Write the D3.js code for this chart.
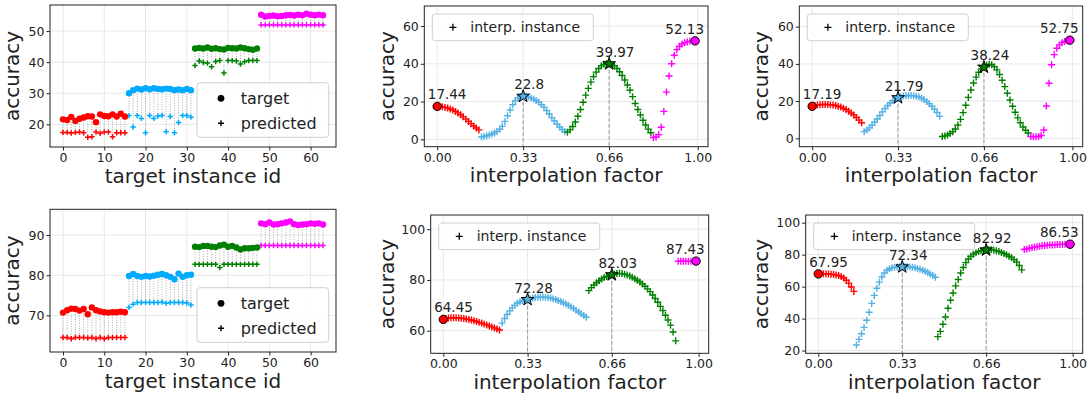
<!DOCTYPE html>
<html>
<head>
<meta charset="utf-8">
<script src="https://cdn.jsdelivr.net/npm/d3@7"></script>
<style>
  body { margin: 0; background: #fff; }
  svg { display: block; }
  text { font-family: "DejaVu Sans", sans-serif; fill: #222; }
</style>
</head>
<body>
<svg id="chart" width="1089" height="399"></svg>
<script>
// ---- data ----
const instanceIds = d3.range(64);           // target instance id 0..63
const groupSize = 16;                        // 16 instances per target group
const interpFactors = d3.range(100).map(i => i / 100);  // 0.00 .. 0.99

const targetTop = [
  21.6, 21.4, 22.4, 21.1, 21.8, 22.2, 22.6, 22.5, 20.7, 23.2, 22.7, 22.6, 23.2, 22.5, 23.4, 22.5,
  30.0, 31.0, 31.5, 31.2, 31.6, 31.3, 31.6, 31.4, 31.3, 31.5, 31.4, 31.0, 31.2, 31.0, 31.4, 31.0,
  44.4, 44.6, 44.4, 44.7, 44.3, 44.5, 44.2, 44.1, 44.6, 44.5, 44.4, 44.7, 44.5, 44.2, 44.0, 44.4,
  55.3, 54.7, 54.9, 55.0, 54.8, 54.9, 55.1, 55.2, 55.0, 55.3, 55.1, 55.6, 55.3, 55.1, 55.3, 55.1
];
const predictedTop = [
  17.4, 17.4, 17.2, 17.4, 17.5, 17.3, 15.8, 16.0, 17.5, 17.1, 17.5, 17.5, 16.0, 17.3, 17.3, 17.3,
  22.8, 19.1, 22.8, 21.9, 17.3, 22.8, 21.9, 22.7, 22.8, 17.6, 22.5, 17.3, 20.6, 22.8, 22.8, 22.3,
  38.9, 40.4, 39.9, 39.7, 38.5, 40.2, 40.5, 36.5, 40.5, 40.5, 40.4, 39.4, 40.1, 40.5, 40.5, 40.5,
  52.0, 52.0, 52.0, 52.0, 52.0, 52.0, 52.0, 52.0, 52.0, 52.0, 52.0, 52.0, 52.0, 52.0, 52.0, 52.0
];
const targetBottom = [
  70.7, 71.3, 71.7, 71.6, 71.2, 71.6, 70.3, 72.0, 71.3, 71.0, 70.8, 70.7, 70.8, 70.8, 70.9, 70.8,
  79.8, 80.3, 79.8, 79.6, 79.8, 79.7, 79.9, 80.1, 80.3, 80.0, 79.6, 79.0, 80.4, 79.6, 80.0, 80.1,
  87.1, 87.0, 87.3, 87.3, 87.1, 87.0, 87.4, 87.6, 87.1, 87.3, 86.9, 86.4, 86.7, 86.7, 86.8, 86.9,
  92.9, 92.7, 93.1, 92.6, 92.7, 92.9, 93.1, 93.4, 92.7, 92.5, 92.6, 92.7, 92.9, 92.8, 92.9, 92.6
];
const predictedBottom = [
  64.5, 64.5, 64.2, 64.5, 64.5, 64.5, 64.4, 64.5, 64.2, 64.5, 64.2, 64.5, 64.5, 64.5, 64.5, 64.5,
  72.0, 72.8, 73.2, 73.2, 73.2, 73.2, 73.2, 73.2, 73.3, 73.0, 73.2, 73.2, 73.2, 73.2, 73.1, 72.6,
  82.7, 82.7, 82.7, 82.7, 82.7, 82.7, 81.9, 82.7, 82.7, 82.7, 82.7, 82.7, 82.7, 82.7, 82.7, 82.7,
  87.4, 87.4, 87.4, 87.4, 87.4, 87.4, 87.4, 87.4, 87.4, 87.4, 87.4, 87.4, 87.4, 87.4, 87.4, 87.4
];

// interpolated instances, one value per interpolation factor
const interpTopMid = [
  17.44, 17.4, 17.2, 16.9, 16.6, 16.1, 15.5, 14.8, 14.0, 13.0, 11.9, 10.7, 9.5, 8.3, 7.1, 6.0, 5.0,
  1.2, 1.5, 1.9, 2.3, 2.8, 3.4, 4.2, 5.3, 7.0, 9.5, 12.5, 15.5, 18.3, 20.5, 21.9, 22.6, 22.8,
  22.7, 22.4, 21.9, 21.3, 20.6, 19.6, 18.4, 17.0, 15.3, 13.4, 11.5, 9.7, 8.0, 6.5, 5.2, 4.0,
  3.8, 5.0, 6.8, 9.2, 12.2, 15.8, 19.6, 23.4, 27.0, 30.3, 33.2, 35.6, 37.5, 38.9, 39.7, 40.1, 39.97,
  39.6, 38.8, 37.5, 35.8, 33.8, 31.4, 28.8, 26.0, 22.6, 19.0, 15.8, 12.9, 10.1, 7.6, 5.4, 3.5,
  1.0, 1.2, 2.5, 6.4, 14.8, 25.0, 33.5, 40.0, 44.5, 47.5, 49.3, 50.5, 51.2, 51.6, 51.9, 52.0, 52.13
];
const interpTopRight = [
  17.19, 17.6, 17.9, 18.1, 18.2, 18.2, 18.2, 18.1, 17.9, 17.6, 17.2, 16.8, 16.2, 15.5, 14.6, 13.6, 12.5, 11.2, 9.8, 8.4,
  3.6, 4.5, 5.6, 7.0, 8.6, 10.4, 12.3, 14.2, 16.0, 17.6, 19.0, 20.2, 21.1, 21.79,
  22.3, 22.7, 22.9, 23.0, 23.0, 22.9, 22.6, 22.2, 21.6, 20.8, 19.8, 18.6, 17.2, 15.6, 13.9, 11.8,
  1.0, 1.3, 1.8, 2.6, 3.6, 5.0, 7.2, 10.2, 13.8, 17.8, 22.0, 26.0, 29.7, 32.9, 35.5, 37.3, 38.24,
  39.3, 39.8, 39.5, 38.5, 36.8, 34.3, 31.2, 27.8, 24.2, 20.6, 17.2, 14.0, 11.0, 8.4, 6.1, 4.3, 2.9,
  1.0, 0.9, 0.9, 1.0, 1.5, 4.5, 17.4, 29.6, 39.5, 45.0, 48.4, 50.2, 51.4, 52.0, 52.4, 52.75
];
const interpBottomMid = [
  64.45, 64.8, 65.0, 65.1, 65.1, 65.1, 65.0, 64.9, 64.8, 64.6, 64.4, 64.2, 63.9, 63.6, 63.3, 63.0,
  62.6, 62.3, 61.9, 61.5, 61.1, 60.7, 60.3,
  63.0, 64.8, 66.4, 67.8, 69.0, 70.0, 70.8, 71.4, 71.8, 72.1, 72.28,
  72.6, 72.9, 73.1, 73.2, 73.3, 73.3, 73.2, 73.1, 72.9, 72.6, 72.3, 71.9, 71.5, 71.0, 70.5, 70.0,
  69.4, 68.8, 68.1, 67.4, 66.7, 66.0, 65.3,
  75.8, 77.0, 78.0, 78.9, 79.7, 80.4, 81.0, 81.4, 81.8, 82.03,
  82.3, 82.5, 82.6, 82.5, 82.3, 82.0, 81.6, 81.1, 80.5, 79.9, 79.2, 78.4, 77.5, 76.5, 75.4, 74.1,
  72.7, 71.2, 69.6, 67.9, 66.1, 64.2, 62.2, 59.5, 56.0,
  87.4, 87.4, 87.4, 87.4, 87.4, 87.4, 87.4, 87.43
];
const interpBottomRight = [
  67.95, 68.0, 68.0, 68.0, 67.9, 67.8, 67.6, 67.3, 66.9, 66.3, 65.4, 64.0, 62.2, 59.8, 57.0,
  23.5, 27.0, 30.5, 34.5, 39.0, 44.0, 49.5, 54.5, 59.0, 62.8, 66.0, 68.5, 70.2, 71.2, 71.8, 72.1,
  72.3, 72.4, 72.34,
  72.4, 72.4, 72.3, 72.1, 71.8, 71.4, 70.9, 70.3, 69.6, 68.8, 67.9, 66.9, 65.9,
  28.7, 32.0, 36.5, 41.0, 46.5, 51.5, 56.0, 60.5, 64.5, 68.5, 72.0, 75.0, 77.3, 79.0, 80.3, 81.2,
  81.9, 82.4, 82.7, 82.92,
  83.0, 83.0, 82.8, 82.5, 82.0, 81.4, 80.7, 79.9, 79.0, 78.0, 76.9, 75.5, 73.2, 70.5,
  83.2, 83.6, 84.0, 84.4, 84.7, 85.0, 85.3, 85.5, 85.7, 85.9, 86.0, 86.1, 86.2, 86.3, 86.4, 86.4,
  86.5, 86.5, 86.53
];
// first index of the 2nd, 3rd and 4th coloured segment
const splitTopMid = [17, 50, 83];
const splitTopRight = [20, 50, 84];
const splitBottomMid = [23, 57, 92];
const splitBottomRight = [15, 47, 81];

const keyIndices = [0, 33, 66, 99];                  // the 4 target instances
const keyMarkers = ['circle', 'star', 'star', 'circle'];

const scatterXTicks = [0, 10, 20, 30, 40, 50, 60];
const interpXTicks = [0, 0.33, 0.66, 1.0];

const scatterColors = ['#ff0000', '#00aaff', '#008000', '#ff00ff'];
const interpColors = ['#ff0000', '#55b0e3', '#008000', '#ff00ff'];

// ---- layout ----
const panels = [
  { kind: 'scatter', box: [50, 5, 336, 147], xDom: [-3.15, 66.15], yDom: [12.7, 58.4],
    yTicks: [20, 30, 40, 50], target: targetTop, pred: predictedTop, ylabOff: 31 },
  { kind: 'interp', box: [424.3, 6, 708, 146.7], xDom: [-0.0495, 1.0395], yDom: [-3.9, 70.6],
    yTicks: [0, 20, 40, 60], values: interpTopMid, split: splitTopMid, ylabOff: 30 },
  { kind: 'interp', box: [799.3, 6, 1082.7, 146.7], xDom: [-0.0495, 1.0395], yDom: [-4.5, 71.1],
    yTicks: [0, 20, 40, 60], values: interpTopRight, split: splitTopRight, ylabOff: 31 },
  { kind: 'scatter', box: [50, 209.3, 336, 352], xDom: [-3.15, 66.15], yDom: [60.9, 96.4],
    yTicks: [70, 80, 90], target: targetBottom, pred: predictedBottom, ylabOff: 31 },
  { kind: 'interp', box: [430.7, 215, 708.7, 353.3], xDom: [-0.0495, 1.0395], yDom: [51.1, 105.6],
    yTicks: [60, 80, 100], values: interpBottomMid, split: splitBottomMid, ylabOff: 36.5 },
  { kind: 'interp', box: [805.7, 215, 1082.7, 353.3], xDom: [-0.0495, 1.0395], yDom: [18.3, 104.8],
    yTicks: [20, 40, 60, 80, 100], values: interpBottomRight, split: splitBottomRight, ylabOff: 37.5 }
];

const svg = d3.select('#chart');
svg.append('rect').attr('width', 1089).attr('height', 399).attr('fill', '#fff');

const plusPath = h => `M${-h},0H${h}M0,${-h}V${h}`;

panels.forEach(p => {
  const [x0, y0, x1, y1] = p.box;
  const x = d3.scaleLinear().domain(p.xDom).range([x0, x1]);
  const y = d3.scaleLinear().domain(p.yDom).range([y1, y0]);
  const xTicks = p.kind === 'scatter' ? scatterXTicks : interpXTicks;
  const g = svg.append('g');

  // grid
  g.append('g').selectAll('line').data(xTicks).join('line')
    .attr('x1', d => x(d)).attr('x2', d => x(d)).attr('y1', y0).attr('y2', y1)
    .attr('stroke', '#e8e8e8').attr('stroke-width', 1);
  g.append('g').selectAll('line').data(p.yTicks).join('line')
    .attr('x1', x0).attr('x2', x1).attr('y1', d => y(d)).attr('y2', d => y(d))
    .attr('stroke', '#e8e8e8').attr('stroke-width', 1);

  // axes
  const xAxis = d3.axisBottom(x).tickValues(xTicks).tickSize(3.5).tickPadding(2.5)
    .tickFormat(p.kind === 'scatter' ? d3.format('d') : d3.format('.2f'));
  const gx = g.append('g').attr('transform', `translate(0,${y1})`).call(xAxis);
  const gy = g.append('g').attr('transform', `translate(${x0},0)`)
    .call(d3.axisLeft(y).tickValues(p.yTicks).tickSize(3.5).tickPadding(2).tickFormat(d3.format('d')));
  [gx, gy].forEach(a => {
    a.select('.domain').remove();
    a.selectAll('line').attr('stroke', '#222');
    a.selectAll('text').attr('font-size', 12.5).attr('fill', '#222')
      .attr('font-family', '"DejaVu Sans", sans-serif');
  });

  // axis labels
  g.append('text').attr('x', (x0 + x1) / 2).attr('y', y1 + 35.5)
    .attr('text-anchor', 'middle').attr('font-size', 20)
    .text(p.kind === 'scatter' ? 'target instance id' : 'interpolation factor');
  g.append('text')
    .attr('transform', `translate(${x0 - p.ylabOff},${(y0 + y1) / 2}) rotate(-90)`)
    .attr('text-anchor', 'middle').attr('font-size', 20).text('accuracy');

  const plot = g.append('g');

  if (p.kind === 'scatter') {
    const grp = i => Math.floor(i / groupSize);
    plot.selectAll('line.link').data(instanceIds).join('line').attr('class', 'link')
      .attr('x1', i => x(i)).attr('x2', i => x(i))
      .attr('y1', i => y(p.target[i])).attr('y2', i => y(p.pred[i]))
      .attr('stroke', '#999').attr('stroke-width', 0.8).attr('stroke-dasharray', '1 1.5');
    plot.selectAll('path.pred').data(instanceIds).join('path').attr('class', 'pred')
      .attr('transform', i => `translate(${x(i)},${y(p.pred[i])})`)
      .attr('d', plusPath(2.7)).attr('stroke', i => scatterColors[grp(i)]).attr('stroke-width', 1.5);
    plot.selectAll('circle.tgt').data(instanceIds).join('circle').attr('class', 'tgt')
      .attr('cx', i => x(i)).attr('cy', i => y(p.target[i])).attr('r', 3.2)
      .attr('fill', i => scatterColors[grp(i)]);

    // legend (lower right)
    const lw = 131.7, lh = 54.6, lx = x1 - 7.3 - lw, ly = y1 - 9.7 - lh;
    const lg = g.append('g');
    lg.append('rect').attr('x', lx).attr('y', ly).attr('width', lw).attr('height', lh).attr('rx', 3)
      .attr('fill', 'rgba(255,255,255,0.85)').attr('stroke', '#d0d0d0');
    lg.append('circle').attr('cx', lx + 24).attr('cy', ly + 15.6).attr('r', 3.4).attr('fill', '#000');
    lg.append('path').attr('transform', `translate(${lx + 24},${ly + 40.6})`)
      .attr('d', plusPath(3)).attr('stroke', '#000').attr('stroke-width', 1.4);
    lg.append('text').attr('x', lx + 43.7).attr('y', ly + 15.6).attr('dy', '0.35em')
      .attr('font-size', 16).text('target');
    lg.append('text').attr('x', lx + 43.7).attr('y', ly + 40.6).attr('dy', '0.35em')
      .attr('font-size', 16).text('predicted');
  } else {
    const seg = i => d3.bisectRight(p.split, i);
    const idx = d3.range(p.values.length);

    // dashed guides at the two middle targets
    plot.selectAll('line.guide').data(keyIndices.slice(1, 3)).join('line').attr('class', 'guide')
      .attr('x1', i => x(interpFactors[i])).attr('x2', i => x(interpFactors[i]))
      .attr('y1', i => y(p.values[i])).attr('y2', y1)
      .attr('stroke', '#999').attr('stroke-width', 1).attr('stroke-dasharray', '4 2');

    plot.selectAll('path.pt').data(idx).join('path').attr('class', 'pt')
      .attr('transform', i => `translate(${x(interpFactors[i])},${y(p.values[i])})`)
      .attr('d', plusPath(3.5)).attr('stroke', i => interpColors[seg(i)]).attr('stroke-width', 1.4);

    const labels = [];
    keyIndices.forEach((k, j) => {
      const cx = x(interpFactors[k]), cy = y(p.values[k]);
      if (keyMarkers[j] === 'circle') {
        plot.append('circle').attr('cx', cx).attr('cy', cy).attr('r', 4.2)
          .attr('fill', interpColors[j]).attr('stroke', '#000').attr('stroke-width', 1);
      } else {
        plot.append('path').attr('transform', `translate(${cx},${cy})`)
          .attr('d', d3.symbol(d3.symbolStar, 50)())
          .attr('fill', interpColors[j]).attr('stroke', '#000').attr('stroke-width', 1);
      }
      labels.push([k, cx, cy]);
    });

    // legend (upper left)
    const lx = x0 + 8, ly = y0 + 8, lw = 161, lh = 26.7;
    const lg = g.append('g');
    lg.append('rect').attr('x', lx).attr('y', ly).attr('width', lw).attr('height', lh).attr('rx', 3)
      .attr('fill', 'rgba(255,255,255,0.85)').attr('stroke', '#d0d0d0');
    lg.append('path').attr('transform', `translate(${lx + 20.6},${ly + lh / 2})`)
      .attr('d', plusPath(3.5)).attr('stroke', '#000').attr('stroke-width', 1.3);
    lg.append('text').attr('x', lx + 38).attr('y', ly + lh / 2).attr('dy', '0.35em')
      .attr('font-size', 14).text('interp. instance');

    // value annotations
    labels.forEach(([k, cx, cy]) => {
      const t = g.append('text').attr('y', cy - 7).attr('font-size', 13.5)
        .attr('text-anchor', 'middle').text(String(p.values[k]));
      const w = t.node().getComputedTextLength();
      const tx = Math.max(x0 + 3.5 + w / 2, Math.min(x1 - 4 - w / 2, cx + 6));
      t.attr('x', tx);
    });
  }

  // frame
  g.append('rect').attr('x', x0).attr('y', y0).attr('width', x1 - x0).attr('height', y1 - y0)
    .attr('fill', 'none').attr('stroke', '#222').attr('stroke-width', 1);
});
</script>
</body>
</html>
